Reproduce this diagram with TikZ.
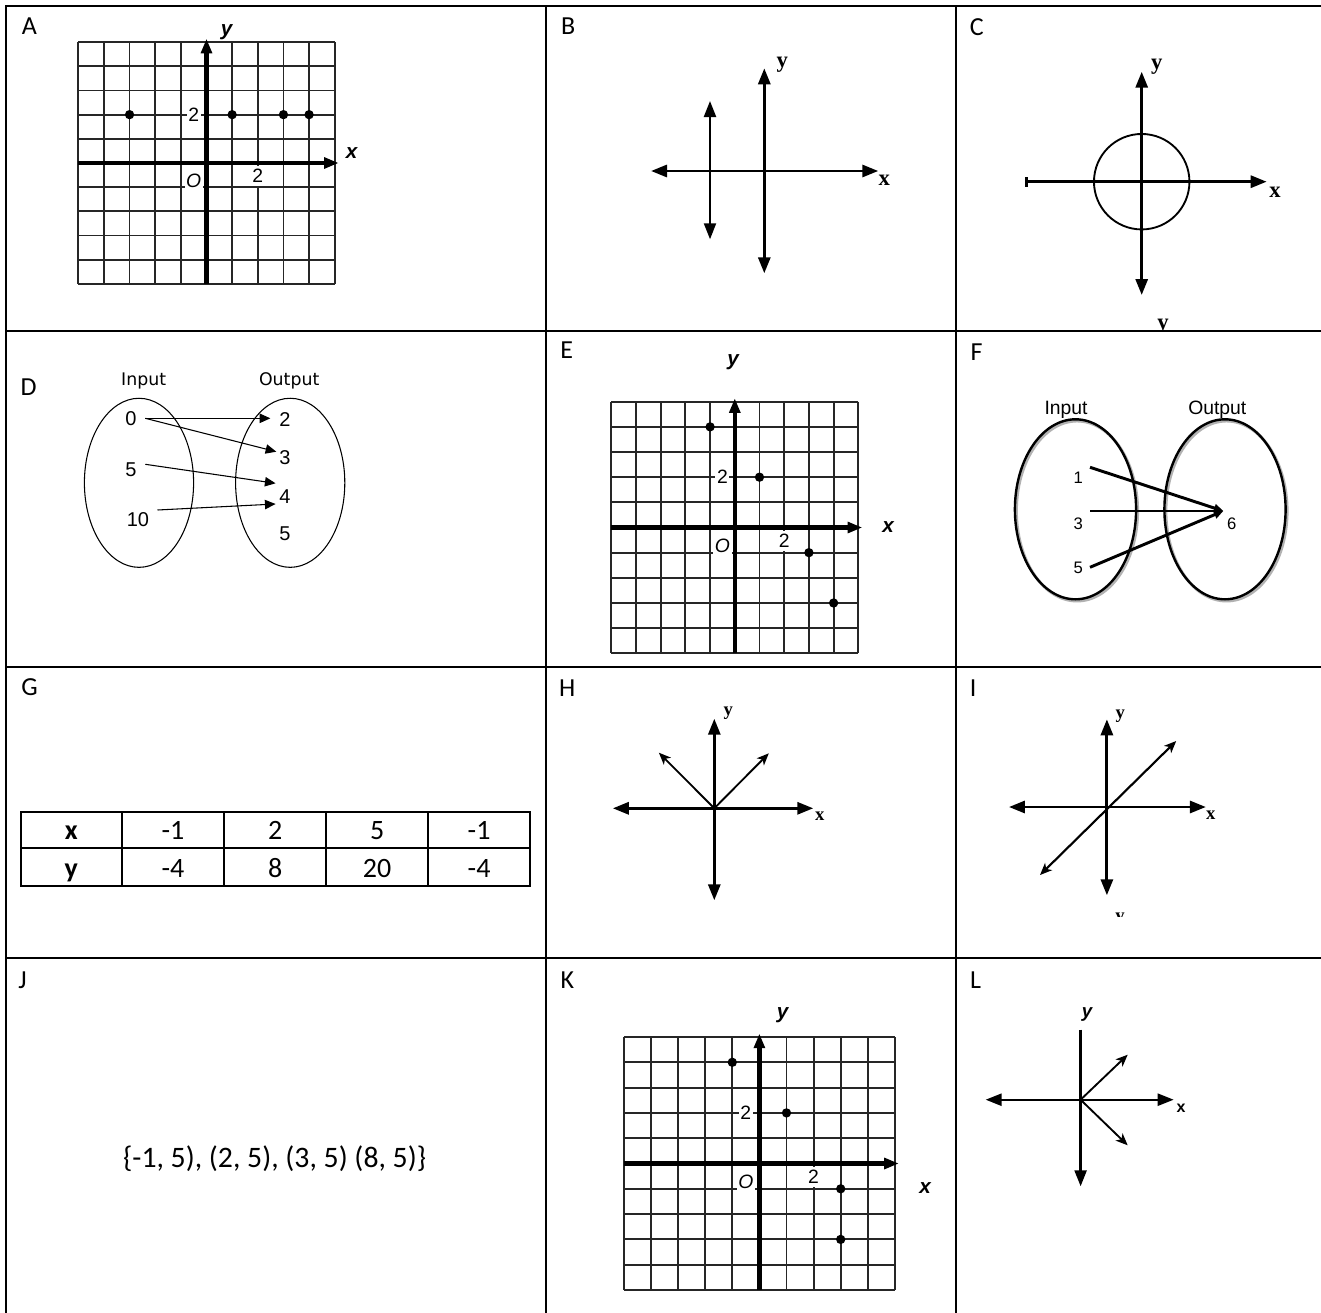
\documentclass[tikz,border=0pt]{standalone}
\usepackage{fontspec}
\setmainfont{Liberation Sans}
\newfontfamily\calfont{Carlito}
\newfontfamily\serfont{Liberation Serif}
\newfontfamily\verfont{DejaVu Sans}
\usetikzlibrary{arrows.meta,shapes.geometric}
\newcommand\gridnumfont{\fontsize{14.5}{14.5}\selectfont}
\newcommand\mygrid[5]{%
  \foreach \i in {-5,...,5}{%
    \draw[gridline] ({#1+\i*#3},{#2-5*#4}) -- ({#1+\i*#3},{#2+5*#4});
    \draw[gridline] ({#1-5*#3},{#2+\i*#4}) -- ({#1+5*#3},{#2+\i*#4});
  }%
  \coordinate (#5xl) at ({#1-5*#3},#2);
  \coordinate (#5xr) at ({#1+5*#3+4},#2);
  \coordinate (#5yb) at (#1,{#2+5*#4});
  \coordinate (#5yt) at (#1,{#2-5*#4-3.5});
  \node[gridnum] (#5ny) at ({#1-0.5*#3},{#2-2*#4}) {2};
  \node[gridnum,minimum height=15pt] (#5nx) at ({#1+2*#3},{#2+0.52*#4}) {2};
  \node[gridnum,font=\gridnumfont\itshape] (#5O) at ({#1-0.5*#3},{#2+0.72*#4}) {O};
  \draw[gridaxis,->] (#5xl) -- (#5xr);
  \draw[gridaxis,->] (#5yb) -- (#5yt);
}
\begin{document}
\begin{tikzpicture}[x=0.75pt,y=-0.75pt,
  cellline/.style={line width=1.9pt,black},
  celllab/.style={font=\calfont\fontsize{19.5}{20}\selectfont,inner sep=0pt},
  gridline/.style={line width=1.4pt,black!85},
  gridaxis/.style={line width=3.4pt,black,>={Triangle[length=11pt,width=8pt]}},
  gridnum/.style={font=\gridnumfont,fill=white,inner sep=1.2pt},
  gridlab/.style={font=\fontsize{15.5}{16}\selectfont\bfseries\itshape,inner sep=0pt},
  serlab/.style={font=\serfont\bfseries\fontsize{17}{17}\selectfont,inner sep=0pt},
  dot/.style={circle,fill=black,inner sep=0pt,minimum size=7pt},
  axisline/.style={line width=2.2pt,>={Triangle[length=12pt,width=9pt]}},
  diagline/.style={line width=1.4pt,>={Stealth[length=9pt,width=7.5pt,inset=2.5pt]}},
  dnum/.style={font=\fontsize{15}{15}\selectfont,inner sep=0pt},
  dhead/.style={font=\verfont\fontsize{13}{13}\selectfont,inner sep=0pt},
  darrow/.style={line width=0.8pt,>={Triangle[length=8pt,width=7pt]}},
  fnum/.style={font=\fontsize{12.5}{13}\selectfont,inner sep=0pt},
  fhead/.style={font=\fontsize{14.5}{15}\selectfont,inner sep=0pt},
  farrow/.style={line width=2.2pt,>={Triangle[length=7pt,width=6pt]}},
  tabline/.style={line width=1.5pt},
  tabtext/.style={font=\calfont\fontsize{21}{21}\selectfont,inner sep=0pt,anchor=base},
  tabhead/.style={font=\calfont\bfseries\fontsize{21}{21}\selectfont,inner sep=0pt,anchor=base}]

\fill[white] (0,0) rectangle (1321,1313);
\path[use as bounding box] (0,0) rectangle (1321,1313);

% ---------- table frame ----------
\draw[cellline] (6,1313) -- (6,6) -- (1321,6);
\draw[cellline] (546,6) -- (546,1313);
\draw[cellline] (956,6) -- (956,1313);
\draw[cellline] (6,331) -- (1025,331);
\draw[line width=0.8pt] (1025,331) -- (1307,331);
\draw[cellline] (1307,331) -- (1321,331);
\draw[cellline] (6,667) -- (1321,667);
\draw[cellline] (6,958) -- (1321,958);

% ---------- cell labels ----------
\node[celllab] (labA) at (29.5,26) {A};
\node[celllab] (labB) at (568.3,26) {B};
\node[celllab] (labC) at (976.7,26.7) {C};
\node[celllab] (labD) at (28.5,386.7) {D};
\node[celllab] (labE) at (566.7,350) {E};
\node[celllab] (labF) at (976.7,351.7) {F};
\node[celllab] (labG) at (29.5,686.7) {G};
\node[celllab] (labH) at (567.3,687.7) {H};
\node[celllab] (labI) at (973.2,687.7) {I};
\node[celllab] (labJ) at (22.6,980) {J};
\node[celllab] (labK) at (567.3,979.7) {K};
\node[celllab] (labL) at (975.7,979.7) {L};

% ---------- A ----------
\mygrid{206.5}{163}{25.65}{24.17}{A}
\node[gridlab] (Ay) at (226.6,31.7) {y};
\node[gridlab] (Ax) at (351.7,153.3) {x};
\node[dot] (Ap1) at ({206.5-3*25.65},{163-2*24.17}) {};
\node[dot] (Ap2) at ({206.5+1*25.65},{163-2*24.17}) {};
\node[dot] (Ap3) at ({206.5+3*25.65},{163-2*24.17}) {};
\node[dot] (Ap4) at ({206.5+4*25.65},{163-2*24.17}) {};

% ---------- B ----------
\coordinate (Bxl) at (651,171);
\coordinate (Bxr) at (878.3,171);
\coordinate (Byt) at (764.3,68.3);
\coordinate (Byb) at (764.3,273.3);
\coordinate (Bvt) at (710,101);
\coordinate (Bvb) at (710,239.3);
\draw[axisline,<->] (Bxl) -- (Bxr);
\draw[axisline,<->] (Byb) -- (Byt);
\draw[axisline,line width=1.6pt,<->] (Bvb) -- (Bvt);
\node[serlab] (By) at (782.3,65) {y};
\node[serlab] (Bx) at (884.3,180) {x};

% ---------- C ----------
\coordinate (Cxl) at (1026.7,181.7);
\coordinate (Cxr) at (1266.7,181.7);
\coordinate (Cyt) at (1141.7,71.7);
\coordinate (Cyb) at (1141.7,295);
\coordinate (Co) at (1141.7,181.7);
\draw[axisline,->] (Cxl) -- (Cxr);
\draw[line width=2.2pt] (1026.7,177) -- (1026.7,187);
\draw[axisline,<->] (Cyb) -- (Cyt);
\draw[line width=1.4pt] (Co) circle[radius=35.8pt];
\node[serlab] (Cy) at (1156.7,66.7) {y};
\node[serlab] (Cx) at (1275,192.7) {x};
\begin{scope}
  \clip (1140,300) rectangle (1190,330.2);
  \node[serlab,anchor=base] (Cyc) at (1163,329.5) {y};
\end{scope}

% ---------- D ----------
\node[ellipse,draw,line width=0.8pt,minimum width=81.9pt,minimum height=126.8pt,inner sep=0pt] (DL) at (139,482.8) {};
\node[ellipse,draw,line width=0.8pt,minimum width=81.9pt,minimum height=126.8pt,inner sep=0pt] (DR) at (290.2,482.8) {};
\node[dhead] (Din) at (143.6,380.7) {Input};
\node[dhead] (Dout) at (289.2,380.7) {Output};
\node[dnum] (Di0) at (131,418.3) {0};
\node[dnum] (Di5) at (131,469.3) {5};
\node[dnum] (Di10) at (138,520) {10};
\node[dnum] (Do2) at (285,419.3) {2};
\node[dnum] (Do3) at (285,457.3) {3};
\node[dnum] (Do4) at (285,496.7) {4};
\node[dnum] (Do5) at (285,534) {5};
\coordinate (Ds0) at (145.3,418.3);
\coordinate (Ds5) at (145.3,464.3);
\coordinate (Ds10) at (157.5,510);
\coordinate (Dt2) at (270.4,418.3);
\coordinate (Dt3) at (276.3,451.7);
\coordinate (Dt4a) at (275.6,483.3);
\coordinate (Dt4b) at (275.6,504);
\draw[darrow,->] (Ds0) -- (Dt2);
\draw[darrow,->] (Ds0) -- (Dt3);
\draw[darrow,->] (Ds5) -- (Dt4a);
\draw[darrow,->] (Ds10) -- (Dt4b);

% ---------- E ----------
\mygrid{734.8}{527.5}{24.7}{25.16}{E}
\node[gridlab] (Ey) at (733,362) {y};
\node[gridlab] (Ex) at (888,527) {x};
\node[dot] (Ep1) at ({734.8-1*24.7},{527.5-4*25.16}) {};
\node[dot] (Ep2) at ({734.8+1*24.7},{527.5-2*25.16}) {};
\node[dot] (Ep3) at ({734.8+3*24.7},{527.5+1*25.16}) {};
\node[dot] (Ep4) at ({734.8+4*24.7},{527.5+3*25.16}) {};

% ---------- F ----------
\node[ellipse,draw=black!30,line width=2.2pt,minimum width=90.9pt,minimum height=135pt,inner sep=0pt] (FLs) at (1077,511) {};
\node[ellipse,draw=black!30,line width=2.2pt,minimum width=90.9pt,minimum height=135pt,inner sep=0pt] (FRs) at (1226.5,511) {};
\node[ellipse,draw,line width=1.8pt,minimum width=90.9pt,minimum height=135pt,inner sep=0pt] (FL) at (1075.5,509.3) {};
\node[ellipse,draw,line width=1.8pt,minimum width=90.9pt,minimum height=135pt,inner sep=0pt] (FR) at (1225,509.3) {};
\node[fhead] (Fin) at (1066,410) {Input};
\node[fhead] (Fout) at (1217.3,410) {Output};
\node[fnum] (Fi1) at (1078.3,477.7) {1};
\node[fnum] (Fi3) at (1078.3,523.3) {3};
\node[fnum] (Fi5) at (1078.3,568.3) {5};
\node[fnum] (Fo6) at (1231.7,523.3) {6};
\coordinate (Fs1) at (1090,467.3);
\coordinate (Fs3) at (1090,511);
\coordinate (Fs5) at (1090,567.3);
\coordinate (Ft) at (1223.3,511);
\draw[farrow,->] (Fs1) -- (Ft);
\draw[farrow,->] (Fs3) -- (Ft);
\draw[farrow,->] (Fs5) -- (Ft);

% ---------- G ----------
\draw[tabline] (20.9,811.7) rectangle (530,886);
\draw[tabline] (20.9,848.3) -- (530,848.3);
\foreach \xx in {121.7,224.2,326,428.2} \draw[tabline] (\xx,811.7) -- (\xx,886);
\node[tabhead] (Gx) at (71.3,839.5) {x};
\node[tabtext] (Gx1) at (173,839.5) {-1};
\node[tabtext] (Gx2) at (275.1,839.5) {2};
\node[tabtext] (Gx3) at (377.1,839.5) {5};
\node[tabtext] (Gx4) at (479.1,839.5) {-1};
\node[tabhead] (Gy) at (71.3,877) {y};
\node[tabtext] (Gy1) at (173,877) {-4};
\node[tabtext] (Gy2) at (275.1,877) {8};
\node[tabtext] (Gy3) at (377.1,877) {20};
\node[tabtext] (Gy4) at (479.1,877) {-4};

% ---------- H ----------
\coordinate (Hxl) at (612.8,808.3);
\coordinate (Hxr) at (813.3,808.3);
\coordinate (Hyt) at (714.3,718.7);
\coordinate (Hyb) at (714.3,900.3);
\coordinate (Ho) at (714.3,808.3);
\coordinate (Hul) at (658.9,752.7);
\coordinate (Hur) at (768.8,753.3);
\draw[axisline,<->] (Hxl) -- (Hxr);
\draw[axisline,<->] (Hyb) -- (Hyt);
\draw[diagline,->] (Ho) -- (Hul);
\draw[diagline,->] (Ho) -- (Hur);
\node[serlab,font=\serfont\bfseries\fontsize{14}{14}\selectfont] (Hy) at (728.2,713.7) {y};
\node[serlab,font=\serfont\bfseries\fontsize{14}{14}\selectfont] (Hx) at (819.8,816.7) {x};

% ---------- I ----------
\coordinate (Ixl) at (1008.9,807);
\coordinate (Ixr) at (1205.9,807);
\coordinate (Iyt) at (1106.9,719.3);
\coordinate (Iyb) at (1106.9,895.3);
\coordinate (Idl) at (1040,875);
\coordinate (Iur) at (1176.2,741);
\draw[axisline,<->] (Ixl) -- (Ixr);
\draw[axisline,<->] (Iyb) -- (Iyt);
\draw[diagline,line width=1.6pt,<->] (Idl) -- (Iur);
\node[serlab,font=\serfont\bfseries\fontsize{14}{14}\selectfont] (Iy) at (1120.2,716) {y};
\node[serlab,font=\serfont\bfseries\fontsize{14}{14}\selectfont] (Ix) at (1210.8,815) {x};
\begin{scope}
  \clip (1100,905) rectangle (1140,916);
  \node[serlab,font=\serfont\bfseries\fontsize{14}{14}\selectfont,anchor=base] (Iyc) at (1120,921) {y};
\end{scope}

% ---------- J ----------
\node[tabtext,anchor=center,font=\calfont\fontsize{22.3}{23}\selectfont] (Jset) at (274.6,1158.3) {\{-1, 5), (2, 5), (3, 5) (8, 5)\}};

% ---------- K ----------
\mygrid{759.4}{1163.5}{27.1}{25.3}{K}
\node[gridlab] (Ky) at (782.6,1014.7) {y};
\node[gridlab] (Kx) at (925.2,1188) {x};
\node[dot] (Kp1) at ({759.4-1*27.1},{1163.5-4*25.3}) {};
\node[dot] (Kp2) at ({759.4+1*27.1},{1163.5-2*25.3}) {};
\node[dot] (Kp3) at ({759.4+3*27.1},{1163.5+1*25.3}) {};
\node[dot] (Kp4) at ({759.4+3*27.1},{1163.5+3*25.3}) {};

% ---------- L ----------
\coordinate (Lyt) at (1080.6,1029.7);
\coordinate (Lyb) at (1080.6,1186.3);
\coordinate (Lxl) at (985.6,1099.7);
\coordinate (Lxr) at (1173.7,1099.7);
\coordinate (Lo) at (1080.6,1099.7);
\coordinate (Lur) at (1127.7,1054.7);
\coordinate (Ldr) at (1127.7,1145.3);
\draw[axisline,line width=1.8pt,<->] (Lxl) -- (Lxr);
\draw[axisline,line width=1.8pt,->] (Lyt) -- (Lyb);
\draw[diagline,->] (Lo) -- (Lur);
\draw[diagline,->] (Lo) -- (Ldr);
\node[gridlab,font=\fontsize{14}{14}\selectfont\bfseries\itshape] (Ly) at (1087,1014.7) {y};
\node[gridlab,font=\fontsize{12}{12}\selectfont\bfseries] (Lx) at (1181,1108) {x};

\end{tikzpicture}
\end{document}
